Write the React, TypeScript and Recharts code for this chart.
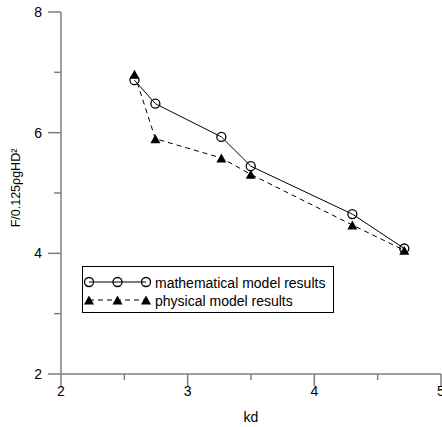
import { LineChart, Line, XAxis, YAxis } from "recharts";

// values
const kd = [2.58, 2.745, 3.266, 3.498, 4.3, 4.71];
const mathResults = [6.87, 6.48, 5.93, 5.445, 4.65, 4.08];
const physResults = [6.97, 5.9, 5.58, 5.31, 4.47, 4.05];

const xTicks = [2, 2.5, 3, 3.5, 4, 4.5, 5];
const yTicks = [2, 3, 4, 5, 6, 7, 8];

const axisColor = "#7f7f7f";
const font = "'Liberation Sans', Arial, sans-serif";

const data = kd.map((k, i) => ({ kd: k, math: mathResults[i], phys: physResults[i] }));

const XTick = (props: any) => {
  const { x, y, payload } = props;
  const major = Number.isInteger(payload.value);
  return (
    <g>
      <line x1={x} x2={x} y1={y} y2={y + (major ? 12 : 6)} stroke={axisColor} strokeWidth={1.5} />
      {major && (
        <text x={x} y={y + 22} textAnchor="middle" fontSize={14} fontFamily={font} fill="#000">
          {payload.value}
        </text>
      )}
    </g>
  );
};

const YTick = (props: any) => {
  const { x, y, payload } = props;
  const major = payload.value % 2 === 0;
  return (
    <g>
      <line x1={x - (major ? 13 : 7)} x2={x} y1={y} y2={y} stroke={axisColor} strokeWidth={1.5} />
      {major && (
        <text x={x - 19} y={y + 5} textAnchor="end" fontSize={14} fontFamily={font} fill="#000">
          {payload.value}
        </text>
      )}
    </g>
  );
};

const CircleDot = (props: any) => {
  const { cx, cy, index } = props;
  if (cx == null || cy == null) return null;
  return <circle key={index} cx={cx} cy={cy} r={4.5} fill="none" stroke="#000" strokeWidth={1.3} />;
};

const TriangleDot = (props: any) => {
  const { cx, cy, index } = props;
  if (cx == null || cy == null) return null;
  return (
    <path
      key={index}
      d={`M${cx},${cy - 4.5} L${cx - 5},${cy + 4.5} L${cx + 5},${cy + 4.5} Z`}
      fill="#000"
    />
  );
};

const YLabel = (props: any) => {
  const vb = props.viewBox || { x: 0, y: 12, width: 61, height: 362 };
  const cx = vb.x + 20;
  const cy = vb.y + vb.height / 2 - 5;
  return (
    <text x={cx} y={cy} transform={`rotate(-90 ${cx} ${cy})`} textAnchor="middle" fontSize={12.5} fontFamily={font} fill="#000">
      F/0.125ρgHD²
    </text>
  );
};

const ChartLegend = () => (
  <div
    style={{
      position: "absolute",
      left: 82,
      top: 266,
      width: 250,
      height: 45,
      border: "1px solid #000",
      background: "#fff",
    }}
  >
    <svg width={250} height={45} style={{ position: "absolute", left: 0, top: 0 }}>
      <line x1={6} x2={63} y1={15} y2={15} stroke="#000" strokeWidth={1} />
      {[6, 34.5, 63].map((cx) => (
        <circle key={cx} cx={cx} cy={15} r={4.5} fill="none" stroke="#000" strokeWidth={1.3} />
      ))}
      <line x1={6} x2={63} y1={33} y2={33} stroke="#000" strokeWidth={1} strokeDasharray="5 4" />
      {[6, 34.5, 63].map((cx) => (
        <path key={cx} d={`M${cx},${28.5} L${cx - 5},${37.5} L${cx + 5},${37.5} Z`} fill="#000" />
      ))}
      <text x={72} y={20.5} fontSize={14} fontFamily={font} fill="#000">mathematical model results</text>
      <text x={72} y={38.5} fontSize={14} fontFamily={font} fill="#000">physical model results</text>
    </svg>
  </div>
);

export default function App() {
  return (
    <div
      style={{
        position: "absolute",
        left: 0,
        top: 0,
        width: 442,
        height: 427,
        overflow: "hidden",
        background: "#fff",
      }}
    >
      <LineChart width={460} height={427} data={data} margin={{ top: 12, right: 19, bottom: 0, left: 0 }}>
        <XAxis
          dataKey="kd"
          type="number"
          domain={[2, 5]}
          ticks={xTicks}
          interval={0}
          height={53}
          tickSize={0}
          tickMargin={0}
          tickLine={false}
          tick={<XTick />}
          axisLine={{ stroke: axisColor, strokeWidth: 1.5 }}
          label={{ value: "kd", position: "insideBottom", offset: 5, fontSize: 14, fontFamily: font, fill: "#000" }}
        />
        <YAxis
          type="number"
          domain={[2, 8]}
          ticks={yTicks}
          interval={0}
          width={61}
          tickSize={0}
          tickMargin={0}
          tickLine={false}
          tick={<YTick />}
          axisLine={{ stroke: axisColor, strokeWidth: 1.5 }}
          label={{ content: <YLabel /> }}
        />
        <Line
          dataKey="phys"
          stroke="#000"
          strokeWidth={1}
          strokeDasharray="5 4"
          dot={<TriangleDot />}
          activeDot={false}
          isAnimationActive={false}
        />
        <Line
          dataKey="math"
          stroke="#000"
          strokeWidth={1}
          dot={<CircleDot />}
          activeDot={false}
          isAnimationActive={false}
        />
      </LineChart>
      <ChartLegend />
    </div>
  );
}
